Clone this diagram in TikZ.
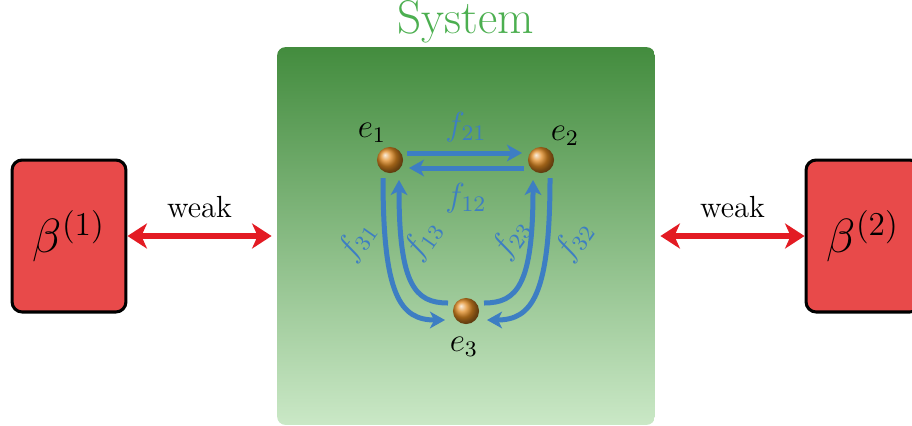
\documentclass[tikz,border=0pt]{standalone}
\usetikzlibrary{arrows.meta,calc}
\definecolor{boxred}{HTML}{E84A4A}
\definecolor{arrred}{HTML}{E31B23}
\definecolor{systxt}{HTML}{4CAF50}
\definecolor{gtop}{HTML}{438C3E}
\definecolor{gbot}{HTML}{CAE8C6}
\definecolor{flowblue}{HTML}{3D7EC3}
\definecolor{ballc}{HTML}{E08A22}
\tikzset{
  bathbox/.style={draw=black, line width=1.1pt, fill=boxred, rounded corners=3.6pt,
    minimum width=41pt, minimum height=54.7pt, inner sep=0pt,
    font=\fontsize{17}{20}\selectfont},
  sysbox/.style={top color=gtop, bottom color=gbot, rounded corners=3pt,
    minimum width=136pt, minimum height=136pt, inner sep=0pt},
  weakarrow/.style={draw=arrred, line width=2.3pt,
    {Stealth[length=7pt,width=9pt,inset=2pt]}-{Stealth[length=7pt,width=9pt,inset=2pt]}},
  weaklabel/.style={font=\fontsize{11}{13}\selectfont, above=2pt, text=black},
  ball/.style={circle, shading=ball, ball color=ballc, minimum size=9.4pt, inner sep=0pt},
  elabel/.style={font=\fontsize{12}{14}\selectfont, text=black, inner sep=1pt},
  flow/.style={draw=flowblue, line width=1.8pt, -{Stealth[length=5.4pt,width=6pt,inset=1.5pt]}},
  flabel/.style={font=\fontsize{12}{14}\selectfont, text=flowblue, inner sep=0pt},
}
\begin{document}
\begin{tikzpicture}[x=0.36pt,y=-0.36pt]
\useasboundingbox (0,0) rectangle (912,425);
\node[sysbox] (sys) at (466,236) {};
\node[font=\fontsize{17}{20}\selectfont, text=systxt, inner sep=0pt] (systitle) at (466,22) {System};
\node[bathbox] (b1) at (69,236) {$\beta^{(1)}$};
\node[bathbox] (b2) at (863,236) {$\beta^{(2)}$};
\coordinate (sl) at ($(sys.west)+(-5,0)$);
\coordinate (sr) at ($(sys.east)+(5,0)$);
\draw[weakarrow] (b1.east) -- (sl) node[midway, weaklabel] (w1) {weak};
\draw[weakarrow] (sr) -- (b2.west) node[midway, weaklabel] (w2) {weak};

\node[ball] (e1) at (390,160) {};
\node[ball] (e2) at (541,160) {};
\node[ball] (e3) at (466,311) {};
\node[elabel] (l1) at ($(e1)+(-18,-27)$) {$e_1$};
\node[elabel] (l2) at ($(e2)+(24,-24)$) {$e_2$};
\node[elabel] (l3) at ($(e3)+(-2,36)$) {$e_3$};

\draw[flow] ($(e1)+(17,-7)$) -- ($(e2)+(-19,-7)$);
\draw[flow] ($(e2)+(-17,8)$) -- ($(e1)+(19,8)$);
\draw[flow] ($(e1)+(-7,18)$) .. controls ($(e1)+(-7,135)$) and ($(e3)+(-66,9)$) .. ($(e3)+(-21,9)$);
\draw[flow] ($(e3)+(-18,-8)$) .. controls ($(e3)+(-51,-8)$) and ($(e1)+(9,125)$) .. ($(e1)+(9,20)$);
\draw[flow] ($(e3)+(18,-8)$) .. controls ($(e3)+(51,-8)$) and ($(e2)+(-8,125)$) .. ($(e2)+(-8,20)$);
\draw[flow] ($(e2)+(9,18)$) .. controls ($(e2)+(9,135)$) and ($(e3)+(66,9)$) .. ($(e3)+(21,9)$);

\node[flabel] (f21) at (466,127) {$f_{21}$};
\node[flabel] (f12) at (466,198) {$f_{12}$};
\node[flabel, rotate=55] (f31) at (357,241) {$f_{31}$};
\node[flabel, rotate=55] (f13) at (423,240) {$f_{13}$};
\node[flabel, rotate=55] (f23) at (511,239) {$f_{23}$};
\node[flabel, rotate=55] (f32) at (574,241) {$f_{32}$};
\end{tikzpicture}
\end{document}
